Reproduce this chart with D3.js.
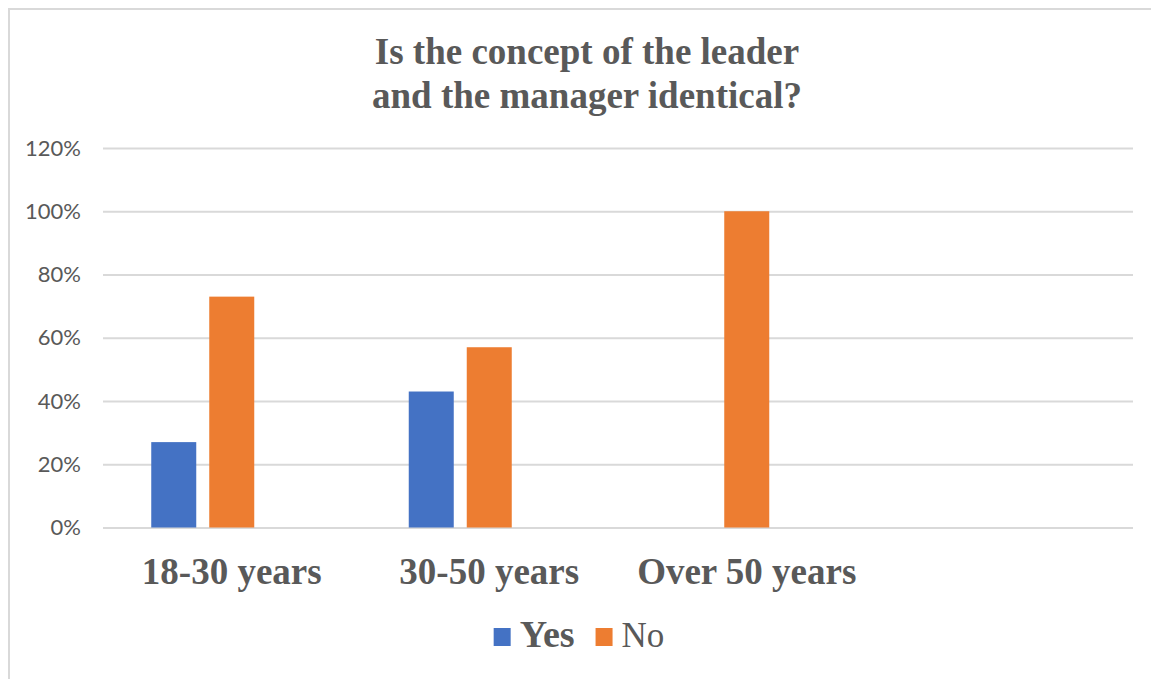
<!DOCTYPE html>
<html>
<head>
<meta charset="utf-8">
<script src="https://cdn.jsdelivr.net/npm/d3@7"></script>
<style>
  html, body { margin: 0; padding: 0; background: #ffffff; }
  svg { display: block; }
</style>
</head>
<body>
<svg id="chart" width="1151" height="679"></svg>
<script>
// Survey answers by age group (share of respondents)
const categories = ["18-30 years", "30-50 years", "Over 50 years", ""];
const seriesNames = ["Yes", "No"];
const yesValues = [0.27, 0.43, 0, null];
const noValues = [0.73, 0.57, 1.00, null];
const seriesColors = ["#4472c4", "#ed7d31"];
const yTicks = [0, 0.2, 0.4, 0.6, 0.8, 1.0, 1.2];
const titleLines = ["Is the concept of the leader", "and the manager identical?"];

const W = 1151, H = 679;
const plot = { left: 103, right: 1133, top: 148, bottom: 527.5 };
const textColor = "#595959";
const gridColor = "#d9d9d9";
const serif = "'Liberation Serif', 'Times New Roman', serif";

const svg = d3.select("#chart");
svg.append("rect").attr("width", W).attr("height", H).attr("fill", "#ffffff");

// chart area frame (only top and left edges fall inside the view)
svg.append("path")
  .attr("d", `M9,${H} L9,9 L${W},9`)
  .attr("fill", "none")
  .attr("stroke", gridColor)
  .attr("stroke-width", 2);

const x0 = d3.scaleBand().domain(categories).range([plot.left, plot.right]).padding(0);
// three slots per group; only the first two hold data
const slotStep = 58, slotGap = 13;
const groupWidth = slotStep * (3 - slotGap / slotStep);
const x1 = d3.scaleBand()
  .domain([0, 1, 2])
  .range([-groupWidth / 2, groupWidth / 2])
  .paddingInner(slotGap / slotStep)
  .paddingOuter(0);
const y = d3.scaleLinear().domain([0, 1.2]).range([plot.bottom, plot.top]);

// gridlines and percentage labels
const yAxis = d3.axisLeft(y)
  .tickValues(yTicks)
  .tickSize(-(plot.right - plot.left))
  .tickPadding(22)
  .tickFormat(d3.format(".0%"));
const gAxis = svg.append("g")
  .attr("transform", `translate(${plot.left},0)`)
  .call(yAxis);
gAxis.select(".domain").remove();
gAxis.selectAll(".tick line")
  .attr("stroke", gridColor)
  .attr("stroke-width", 2);
gAxis.selectAll(".tick text")
  .attr("fill", textColor)
  .attr("font-family", "Lato, 'Open Sans', sans-serif")
  .attr("font-size", 22);

// bars
const seriesValues = [yesValues, noValues];
seriesValues.forEach((vals, si) => {
  svg.append("g")
    .selectAll("rect")
    .data(categories.map((c, i) => ({ c, v: vals[i] })).filter(d => d.v != null))
    .join("rect")
    .attr("x", d => x0(d.c) + x0.bandwidth() / 2 + x1(si))
    .attr("width", x1.bandwidth())
    .attr("y", d => y(d.v))
    .attr("height", d => y(0) - y(d.v))
    .attr("fill", seriesColors[si]);
});

// category labels
const xAxis = d3.axisBottom(x0).tickSize(0).tickPadding(0);
const gX = svg.append("g")
  .attr("transform", `translate(0,${plot.bottom})`)
  .call(xAxis);
gX.select(".domain").remove();
gX.selectAll(".tick text")
  .attr("dy", null)
  .attr("y", 56)
  .attr("fill", textColor)
  .attr("font-family", serif)
  .attr("font-weight", "bold")
  .attr("font-size", 37);

// title
svg.append("text")
  .attr("text-anchor", "middle")
  .attr("fill", textColor)
  .attr("font-family", serif)
  .attr("font-weight", "bold")
  .attr("font-size", 37)
  .selectAll("tspan")
  .data(titleLines)
  .join("tspan")
  .attr("x", 587)
  .attr("y", (d, i) => 64 + i * 44)
  .text(d => d);

// legend
const legend = svg.append("g");
let lx = 0;
const weights = ["bold", "normal"];
seriesNames.forEach((name, i) => {
  const item = legend.append("g").attr("transform", `translate(${lx},0)`);
  item.append("rect")
    .attr("x", 0).attr("y", -19)
    .attr("width", 17).attr("height", 18)
    .attr("fill", seriesColors[i]);
  const t = item.append("text")
    .attr("x", 26).attr("y", 0)
    .attr("fill", textColor)
    .attr("font-family", serif)
    .attr("font-weight", weights[i])
    .attr("font-size", i === 0 ? 38 : 35)
    .text(name);
  lx += 26 + t.node().getComputedTextLength() + 21;
});
const legendWidth = lx - 21;
legend.attr("transform", `translate(${579 - legendWidth / 2},647)`);
</script>
</body>
</html>
